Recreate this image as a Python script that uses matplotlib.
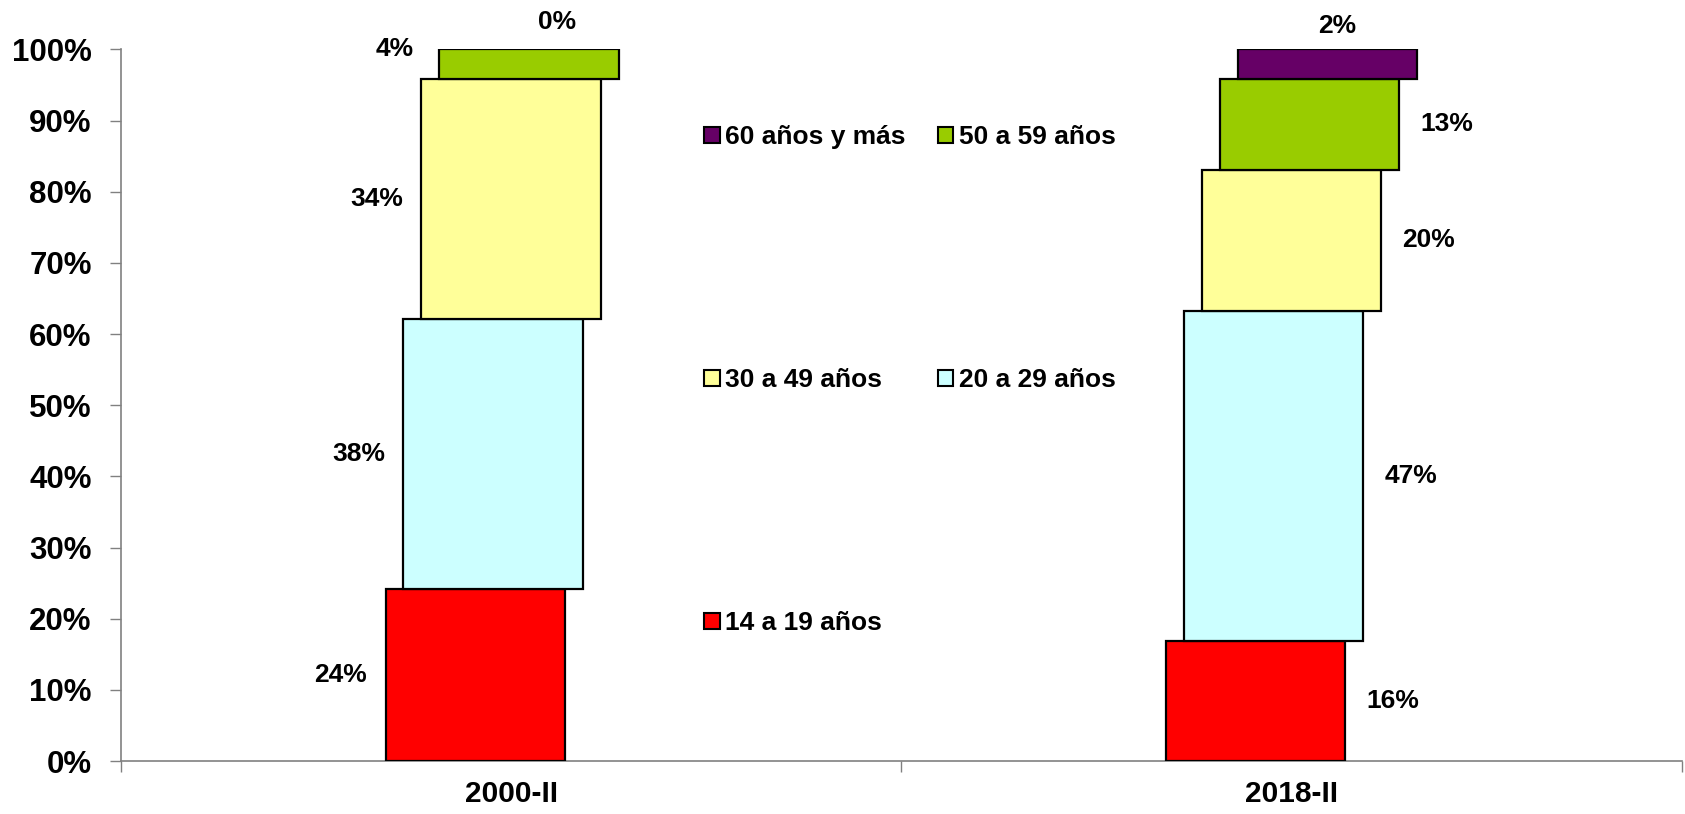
import matplotlib
matplotlib.use("Agg")
import matplotlib.pyplot as plt
from matplotlib.patches import Patch
import numpy as np

plt.rcParams['font.family'] = ['Liberation Sans', 'DejaVu Sans']
plt.rcParams['font.weight'] = 'bold'

# data
periods = ['2000-II', '2018-II']
groups = ['14 a 19 años', '20 a 29 años', '30 a 49 años', '50 a 59 años', '60 años y más']
colors = ['#FF0000', '#CCFFFF', '#FFFF99', '#99CC00', '#660066']
# segment heights as drawn (percent of total)
shares_2000 = [24.2, 37.9, 33.8, 4.1, 0.0]
shares_2018 = [16.8, 46.5, 19.8, 12.7, 4.2]
labels_2000 = ['24%', '38%', '34%', '4%', '0%']
labels_2018 = ['16%', '47%', '20%', '13%', '2%']

shares = np.array([shares_2000, shares_2018])
labels = [labels_2000, labels_2018]

fig = plt.figure(figsize=(16.85, 8.14), dpi=100)
ax = fig.add_axes([0.0718, 0.0651, 0.9262, 0.8742])

x = np.arange(len(periods))
width = 0.23
step = 0.023  # each segment drawn a bit to the right of the one below

bottoms = np.zeros(len(periods))
for i, g in enumerate(groups):
    xs = x + (i - 2) * step
    lw = [1.6 if h > 0 else 0 for h in shares[:, i]]
    ax.bar(xs, shares[:, i], width=width, bottom=bottoms, color=colors[i],
           edgecolor='black', linewidth=lw, zorder=3)
    for j in range(len(periods)):
        h = shares[j, i]
        if i == len(groups) - 1:
            # top label centred above the bar
            dy = 20 if j == 0 else 17
            ax.annotate(labels[j][i], (xs[j], bottoms[j] + h), xytext=(7, dy),
                        textcoords='offset points', ha='center', va='center',
                        fontsize=19, fontweight='bold')
            continue
        ymid = bottoms[j] + h / 2 if h >= 5 else bottoms[j] + h
        dx = -97 if j == 0 else 99
        ax.annotate(labels[j][i], (xs[j], ymid), xytext=(dx, 0),
                    textcoords='offset points', ha='center', va='center',
                    fontsize=19, fontweight='bold')
    bottoms = bottoms + shares[:, i]

ax.set_xlim(-0.5, 1.5)
ax.set_ylim(0, 100)
ax.set_yticks(np.arange(0, 101, 10))
ax.set_yticklabels([f'{v}%' for v in range(0, 101, 10)], fontsize=22.5, fontweight='bold')
ax.set_xticks(x)
ax.set_xticklabels(periods, fontsize=21.5, fontweight='bold')
ax.set_xticks([-0.5, 0.5, 1.5], minor=True)
ax.tick_params(axis='x', which='major', length=0, pad=14)
ax.tick_params(axis='x', which='minor', length=8, color='#808080', width=1)
ax.tick_params(axis='y', length=8, color='#808080', width=1, pad=13)

for s in ['top', 'right']:
    ax.spines[s].set_visible(False)
for s in ['left', 'bottom']:
    ax.spines[s].set_color('#808080')
    ax.spines[s].set_linewidth(1.2)

# legend: two columns, reversed order
order = [4, 2, 0, 3, 1]
handles = [Patch(facecolor=colors[k], edgecolor='black', linewidth=1.5) for k in order]
fig.legend(handles, [groups[k] for k in order], ncol=2, loc='upper left',
           bbox_to_anchor=(0.418, 0.846), frameon=False, borderpad=0,
           borderaxespad=0, prop={'weight': 'bold', 'size': 19},
           handlelength=0.6, handleheight=0.6, handletextpad=0.2,
           columnspacing=1.2, labelspacing=8.3)

fig.savefig('out.png', dpi=100)
